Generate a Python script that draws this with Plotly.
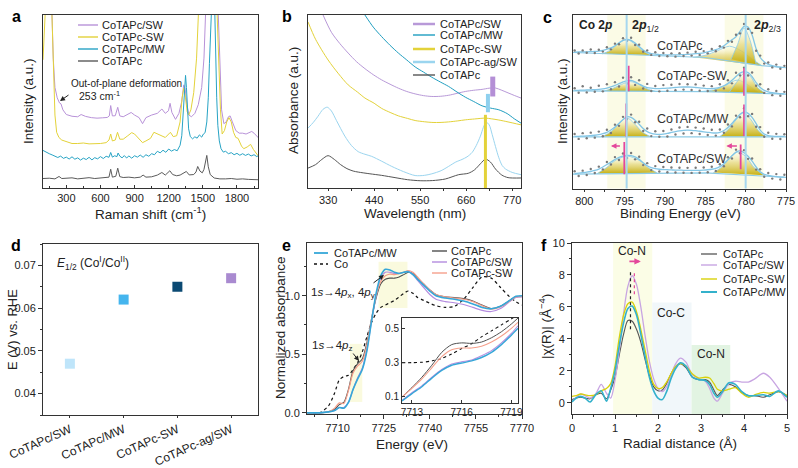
import plotly.graph_objects as go

W, H = 798, 468
FONT = "Arial, Liberation Sans, sans-serif"


def px(x):
    return x / W


def py(y):
    return 1 - y / H


# ======================= DATA =======================
# (a) Raman (intensity in arbitrary, stacked units 0-100)
RAMAN_NAMES = ["CoTAPc/SW", "CoTAPc-SW", "CoTAPc/MW", "CoTAPc"]
RAMAN_COLORS = ["#b892d8", "#e3d23a", "#27a3c4", "#5a5a5a"]
RAMAN_SW_X = [100, 150, 170, 185, 200, 220, 240, 253, 270, 300, 350, 400, 430, 470, 520, 570, 620, 660, 678, 690,
              705, 730, 752, 770, 800, 840, 870, 900, 940, 970, 1000, 1050, 1100, 1140, 1170, 1198, 1212, 1228, 1260,
              1290, 1315, 1332, 1345, 1360, 1378, 1400, 1430, 1460, 1490, 1510, 1525, 1540, 1620, 1635, 1650, 1665,
              1685, 1705, 1725, 1740, 1760, 1790, 1820, 1850, 1880, 1910, 1930, 1950, 1975, 2000]
RAMAN_SW_Y = [130, 130, 110, 75, 58, 52, 49, 48.5, 45, 42.3, 41.3, 41, 42.3, 41.2, 40.5, 40.2, 40.4, 40.6, 41.5, 47.5,
              41.5, 41.6, 46.5, 41.5, 41, 42.5, 43.5, 42, 40.5, 37, 40.5, 42, 43, 45.5, 43, 44.5, 48.8, 43.5, 39.5,
              43, 50, 59.5, 57, 48, 42, 41, 43, 48, 58, 75, 100, 130, 130, 100, 62, 45,
              37, 38, 41, 41.5, 38, 33, 31.5, 31.5, 31, 32, 32.5, 31.5, 29.5, 28]
RAMAN_DSW_X = [95, 110, 122, 135, 160, 172, 185, 200, 215, 235, 260, 300, 350, 400, 450, 500, 550, 600, 650, 675,
               690, 705, 730, 750, 770, 800, 840, 875, 900, 940, 970, 1000, 1040, 1070, 1100, 1140, 1170, 1200, 1215,
               1240, 1270, 1300, 1318, 1332, 1348, 1362, 1375, 1395, 1420, 1445, 1465, 1480, 1610, 1625, 1640, 1655,
               1670, 1690, 1710, 1730, 1750, 1770, 1790, 1810, 1840, 1860, 1890, 1920, 1945, 1970, 1985]
RAMAN_DSW_Y = [74, 95, 130, 130, 130, 100, 65, 42, 32, 29, 27.5, 26.5, 25.5, 25.5, 25.8, 25.3, 25.2, 25.5, 26, 27.5,
               31, 27, 27.5, 32, 28, 28, 30, 31.8, 31, 28, 26, 27, 28.5, 32, 31, 30, 29, 31, 32,
               29.5, 30, 38, 52, 57.5, 52, 44, 42, 45, 55, 75, 100, 130, 130, 100, 70, 45,
               31, 33, 38, 40.5, 38, 32, 29, 28.5, 24, 22.5, 23.5, 25, 22, 19.5, 18.5]
RAMAN_MW_X = [95, 125, 150, 175, 200, 225, 250, 275, 300, 325, 350, 375, 400, 425, 450, 475, 500, 525, 550, 575,
              600, 625, 650, 675, 690, 705, 725, 745, 755, 770, 790, 810, 830, 850, 875, 900, 925, 950, 975, 1000,
              1025, 1050, 1075, 1100, 1125, 1150, 1175, 1200, 1225, 1250, 1275, 1300, 1315, 1330, 1340, 1348, 1356,
              1365, 1375, 1390, 1410, 1430, 1450, 1470, 1490, 1505, 1520, 1535, 1548, 1558, 1568, 1580, 1592, 1604,
              1612, 1622, 1632, 1645, 1660, 1680, 1700, 1725, 1750, 1775, 1800, 1825, 1850, 1875, 1900, 1925, 1950,
              1975, 1985]
RAMAN_MW_Y = [21.5, 20.2, 19.6, 18.9, 18.0, 17.4, 18.2, 16.9, 17.6, 16.5, 17.8, 16.4, 17.2, 15.9, 17.0, 16.2, 17.5,
              16.0, 17.3, 16.6, 17.9, 16.8, 18.1, 17.5, 20.3, 17.6, 18.4, 17.9, 20.0, 18.2, 17.2, 18.5, 17.1, 18.3,
              17.0, 18.4, 17.6, 18.8, 17.5, 19.0, 18.1, 19.6, 19.0, 21.0, 20.1, 21.6, 20.4, 22.3, 21.1, 22.0, 21.3,
              24.5, 30, 48, 62, 65, 58, 44, 34, 29.5, 28.2, 29.4, 28.6, 30.5, 29.2, 31.0, 31.8, 38, 52, 72, 100, 130,
              130, 105, 78, 52, 36, 27, 22.5, 20.5, 21.0, 19.6, 20.2, 19.0, 19.8, 18.7, 19.6, 18.6, 19.4, 18.3, 19.0,
              17.9, 18.4]
RAMAN_PC_X = [95, 150, 200, 236, 260, 300, 350, 400, 450, 500, 550, 600, 650, 675, 690, 705, 735, 752, 770, 800,
              850, 900, 950, 975, 1000, 1050, 1100, 1140, 1170, 1195, 1210, 1235, 1270, 1300, 1340, 1355, 1380, 1420,
              1440, 1455, 1475, 1495, 1510, 1525, 1535, 1548, 1565, 1600, 1650, 1700, 1750, 1800, 1850, 1900, 1950,
              1985]
RAMAN_PC_Y = [5.2, 5.4, 5.0, 6.4, 5.2, 5.3, 5.6, 5.0, 5.3, 5.7, 5.2, 5.4, 5.6, 6.0, 10.6, 6.0, 6.5, 11.2, 6.3, 5.8,
              6.0, 5.6, 6.0, 7.2, 6.0, 6.2, 7.2, 8.7, 7.2, 8.5, 9.7, 7.5, 6.8, 7.2, 8.7, 9.3, 7.3, 7.5,
              9.0, 12.2, 9.5, 8.5, 10.5, 16, 18.6, 12, 7.5, 5.5, 5.0, 5.0, 5.2, 4.8, 5.0, 4.7, 4.8,
              4.5]
RAMAN_TICKS = [300, 600, 900, 1200, 1500, 1800]

# (b) UV-vis
UV_NAMES = ["CoTAPc/SW", "CoTAPc/MW", "CoTAPc-SW", "CoTAPc-ag/SW", "CoTAPc"]
UV_COLORS = ["#b899d8", "#1f9ec0", "#e3d23a", "#9bd5ef", "#555555"]
UV_SW_X = [318, 338, 358, 378, 398, 418, 438, 458, 478, 498, 518, 538, 558, 578, 598, 618, 638, 658, 678, 698, 715,
           730, 745, 760, 775, 791]
UV_SW_Y = [100, 90, 83.5, 78, 73, 69, 65.5, 62.5, 60, 57.7, 55.8, 54.4, 53.4, 52.9, 53, 53.6, 54.7, 55.8, 56.5, 57,
           57.7, 57.8, 56.5, 55, 53.5, 52]
UV_MW_X = [418, 438, 458, 478, 498, 518, 538, 558, 578, 598, 618, 638, 658, 678, 698, 718, 738, 758, 775, 791]
UV_MW_Y = [100, 93, 87.5, 82.5, 78, 74, 70, 67, 64, 61.3, 58.7, 55.5, 52.5, 50, 47.5, 46.2, 45.2, 43, 40, 37.5]
UV_DSW_X = [282, 300, 330, 355, 378, 400, 418, 440, 458, 480, 498, 520, 538, 560, 578, 600, 618, 640, 658, 680, 706,
            720, 738, 760, 791]
UV_DSW_Y = [96, 86, 74, 66, 59.6, 55.5, 52, 49, 46, 43.5, 41.7, 40.2, 39, 38.3, 37.9, 37.9, 38.2, 38.8, 39.4, 39.9,
            40.4, 40, 39.3, 38.2, 36.5]
UV_AG_X = [282, 295, 306, 318, 328, 338, 350, 370, 386, 402, 418, 434, 458, 482, 510, 538, 560, 578, 600, 618, 635,
           650, 662, 674, 684, 694, 701, 708, 715, 722, 730, 738, 746, 754, 770, 791]
UV_AG_Y = [34.6, 38, 41.5, 45.5, 46.7, 44.5, 39, 30, 24.5, 21, 19.5, 18.3, 15.5, 12.5, 9.5, 7.2, 7.3, 8.2, 10, 12.5,
           15, 16.5, 18, 20.5, 24.5, 30, 35, 38, 36.5, 31, 24, 17.5, 13, 11, 9, 7.7]
UV_PC_X = [282, 300, 315, 330, 345, 360, 375, 390, 402, 430, 458, 490, 520, 550, 580, 610, 642, 665, 680, 694, 706,
           718, 730, 745, 760, 791]
UV_PC_Y = [11.5, 13.5, 16.5, 18.7, 16.5, 13.5, 11.2, 9.8, 9.2, 8.2, 7.3, 6, 4.8, 4.2, 4.3, 5.2, 7.7, 8.5, 10.5, 14,
           16.7, 15, 11, 7.5, 6, 5.8]
UV_PEAK_NM = [706, 712, 723.5]
UV_PEAK_LO = [0, 43.8, 52.9]
UV_PEAK_HI = [42.3, 54.4, 64.4]
UV_PEAK_COL = ["#e3d23a", "#8fd0ee", "#b48fd6"]
UV_TICKS = [330, 440, 550, 660, 770]

# (c) XPS Co 2p (stacked)
XPS_LABELS = ["CoTAPc", "CoTAPc-SW", "CoTAPc/MW", "CoTAPc/SW"]
XPS_LABEL_Y = [82.2, 65, 39.8, 16.8]
XPS_E = [801.2, 800.7, 800.2, 799.7, 799.2, 798.7, 798.2, 797.7, 797.2, 796.7, 796.2, 795.7, 795.2, 794.7, 794.2,
         793.7, 793.2, 792.7, 792.2, 791.7, 791.2, 790.7, 790.2, 789.7, 789.2, 788.7, 788.2, 787.7, 787.2, 786.7,
         786.2, 785.7, 785.2, 784.7, 784.2, 783.7, 783.2, 782.7, 782.2, 781.7, 781.2, 780.7, 780.2, 779.7, 779.2,
         778.7, 778.2, 777.7, 777.2, 776.7, 776.2, 775.7, 775.2]
XPS_ENV = [
    [78.6, 78.7, 78.8, 78.8, 78.9, 79, 79.2, 79.6, 80.3, 81, 82.3, 84, 85.4, 86, 85.4, 83.8, 81.8, 79.8, 78.5, 77.8,
     77.4, 77.2, 77, 77, 77, 77, 77.1, 77.2, 77.3, 77.5, 77.7, 77.9, 78.2, 78.7, 79.3, 80, 81, 82.3, 84, 85.7, 87.5,
     90.5, 93.5, 93, 88.5, 80.5, 75.5, 73, 71.5, 70.8, 70.3, 70, 69.8],
    [56.5, 56.6, 56.7, 56.8, 56.9, 57, 57.1, 57.4, 57.9, 58.6, 59.4, 60.4, 61.4, 62.2, 62.3, 61.5, 60.2, 59, 58.2,
     57.8, 57.6, 57.6, 57.7, 57.8, 58, 58.2, 58.4, 58.5, 58.5, 58.4, 58.2, 58, 57.8, 57.6, 57.6, 57.8, 58.3, 59.2,
     60.6, 62.4, 64.5, 66.5, 67.4, 66.8, 64.5, 61, 58.2, 56.6, 55.7, 55.2, 54.9, 54.7, 54.5],
    [30, 30.1, 30.2, 30.3, 30.5, 30.7, 31, 31.6, 32.4, 33.7, 35.4, 37.6, 39.8, 41.4, 41, 39.4, 37, 34.6, 32.8, 31.8,
     31.3, 31.2, 31.4, 31.8, 32.3, 32.8, 33.2, 33.5, 33.6, 33.5, 33.3, 33, 32.7, 32.4, 32.1, 32, 32.4, 33.4, 35.2,
     37.5, 40.2, 42.8, 44.1, 43.3, 41, 37.4, 33.6, 31.4, 30.5, 30.2, 30, 30, 30],
    [8.5, 8.8, 9.1, 9.4, 9.8, 10.4, 11.2, 12.4, 13.8, 15.2, 16.7, 17.9, 18.7, 19.1, 19, 18.2, 16.8, 14.9, 13.1, 12,
     11.4, 11.1, 10.9, 10.8, 10.7, 10.6, 10.6, 10.5, 10.5, 10.5, 10.5, 10.5, 10.6, 10.8, 11.1, 11.6, 12.6, 14.3, 16.5,
     18.8, 21, 21.7, 20.6, 18.6, 15.8, 12.4, 9.6, 8.2, 7.5, 7.1, 6.8, 6.6, 6.5],
]
XPS_DOTS = [
    [79.5, 77.8, 79.6, 78.2, 80.1, 78.1, 80.0, 78.9, 81.4, 80.2, 83.5, 83.1, 86.6, 85.2, 86.9, 82.7, 82.9, 78.8, 79.6,
     77.0, 78.5, 76.3, 78.1, 76.2, 77.9, 76.0, 78.0, 76.4, 78.3, 76.6, 78.8, 77.0, 79.2, 77.9, 80.4, 79.1, 82.0, 81.2,
     85.1, 84.6, 88.6, 89.4, 94.8, 92.0, 89.7, 79.4, 76.6, 72.0, 72.6, 69.8, 71.4, 69.0, 70.7],
    [57.8, 55.2, 58.9, 55.4, 58.1, 55.8, 59.2, 56.0, 60.1, 57.2, 61.3, 58.8, 63.9, 60.5, 64.1, 59.7, 62.4, 57.6, 60.3,
     56.2, 59.1, 56.0, 59.6, 56.3, 59.8, 56.7, 60.2, 57.0, 60.1, 56.8, 60.0, 56.4, 59.3, 56.2, 59.0, 56.3, 60.1, 57.7,
     62.4, 60.6, 66.7, 65.2, 69.6, 65.1, 66.9, 59.2, 60.1, 55.1, 57.2, 53.8, 56.2, 53.5, 55.7],
    [31.4, 28.6, 31.9, 29.0, 32.2, 29.3, 32.8, 30.1, 33.9, 32.0, 36.8, 36.1, 41.3, 40.0, 42.6, 38.2, 38.5, 33.1, 34.6,
     30.2, 33.0, 29.8, 33.1, 30.0, 34.0, 31.1, 35.2, 31.7, 35.5, 31.9, 35.1, 31.4, 34.6, 30.8, 33.9, 30.5, 34.0, 32.1,
     36.9, 35.8, 42.0, 41.1, 46.3, 41.7, 43.0, 35.6, 35.4, 29.8, 32.1, 28.7, 31.5, 28.5, 31.3],
    [9.9, 7.2, 10.3, 7.8, 11.2, 8.9, 12.6, 11.0, 15.3, 13.8, 18.1, 16.4, 20.2, 17.6, 20.5, 16.8, 18.3, 13.5, 14.6,
     10.6, 12.9, 9.8, 12.4, 9.4, 12.1, 9.2, 12.0, 9.1, 11.9, 9.0, 12.0, 9.1, 12.1, 9.4, 12.5, 10.1, 14.0, 12.8, 18.0,
     17.3, 22.4, 20.3, 22.1, 17.1, 17.3, 10.9, 11.1, 6.8, 8.9, 5.7, 8.3, 5.2, 7.9],
]
XPS_BASE_E = [801.4, 792, 785, 778, 775]
XPS_BASE = [[78.4, 76.8, 75.5, 70.8, 69.6], [56.3, 56.0, 55.8, 54.8, 54.4],
            [29.8, 29.8, 29.9, 29.8, 29.8], [8.3, 8.8, 9.0, 7.2, 6.4]]
XPS_COMPONENTS = [
    ([797.8, 796.8, 795.8, 794.75, 793.7, 792.7, 791.8], [77.6, 79.6, 83.4, 85.8, 83.2, 79.2, 76.9]),
    ([786.5, 785, 783.5, 782, 780.5, 779.2, 778], [75.6, 76.8, 79.4, 82, 79.2, 74.6, 70.8]),
    ([781.8, 781, 780.2, 779.5, 778.7], [74.5, 83, 92.5, 86, 71.5]),
    ([797.6, 796.5, 795.4, 794.3, 793.2, 792.1, 791.2], [56.2, 57.6, 60, 61.6, 59.9, 57.2, 56.1]),
    ([785.5, 784, 782.5, 781, 779.5, 778.3], [55.9, 56.8, 59.5, 62.5, 59, 55]),
    ([782, 781, 780.2, 779.4, 778.5, 777.5], [55.7, 62, 66.5, 64.5, 58, 54.8]),
    ([797.8, 796.7, 795.7, 794.75, 793.8, 792.8, 791.8], [29.9, 32.7, 37.2, 40.8, 37.4, 32.5, 29.9]),
    ([783.2, 782.2, 781.2, 780.3, 779.4, 778.4, 777.5], [29.9, 33.8, 39.5, 43.5, 40, 33.2, 29.9]),
    ([798.4, 797.2, 796, 794.6, 793.2, 792, 791], [8.6, 12.2, 16.6, 18.6, 16.2, 11.8, 9.1]),
    ([784, 782.9, 781.9, 781, 780, 778.9, 777.7], [9.2, 12.6, 18.2, 21, 18.5, 11.8, 7.6]),
]
XPS_REF_LINES = [794.75, 780.0]
XPS_BANDS = [(797.15, 792.4), (782.6, 777.8)]
XPS_SHIFT_E = [794.5, 780.2, 794.8, 780.2, 795.04, 780.62]
XPS_SHIFT_LO = [56, 53.5, 29.8, 30.2, 8.2, 11.1]
XPS_SHIFT_HI = [70.7, 69.4, 49, 48.4, 26.8, 25.4]
XPS_TICKS = [800, 795, 790, 785, 780, 775]

# (d) E1/2
D_CATS = ["CoTAPc/SW", "CoTAPc/MW", "CoTAPc-SW", "CoTAPc-ag/SW"]
D_VALS = [0.047, 0.062, 0.065, 0.067]
D_COLORS = ["#bfe5fa", "#45b5ee", "#0b4a73", "#a98ad0"]

# (e) XANES
XAN_NAMES_L = ["CoTAPc/MW", "Co"]
XAN_NAMES_R = ["CoTAPc", "CoTAPc/SW", "CoTAPc-SW"]
XAN_E = [7700, 7704, 7707, 7709, 7710.5, 7712, 7713.5, 7715, 7716.5, 7718, 7719.5, 7721, 7722.5, 7724, 7725.5,
         7727, 7728.5, 7730, 7731.5, 7733, 7734.5, 7736, 7738, 7740, 7742, 7745, 7748, 7751, 7754, 7757, 7760,
         7763, 7766, 7768, 7770]
XAN_MW = [0.0, 0.0, 0.008, 0.02, 0.045, 0.04, 0.09, 0.2, 0.29, 0.37, 0.53, 0.78, 1.02, 1.17, 1.225, 1.22, 1.2, 1.19,
          1.2, 1.205, 1.18, 1.14, 1.09, 1.04, 1.0, 0.98, 0.97, 0.955, 0.93, 0.9, 0.888, 0.91, 0.96, 0.995, 1.0]
XAN_PC = [0.0, 0.0, 0.01, 0.03, 0.07, 0.09, 0.2, 0.36, 0.42, 0.46, 0.6, 0.8, 0.98, 1.1, 1.14, 1.15, 1.15, 1.16, 1.18,
          1.2, 1.19, 1.15, 1.1, 1.05, 1.01, 0.99, 0.985, 0.975, 0.955, 0.92, 0.89, 0.91, 0.96, 0.99, 0.995]
XAN_SW = [0.0, 0.0, 0.008, 0.02, 0.045, 0.045, 0.09, 0.2, 0.3, 0.38, 0.54, 0.78, 1.0, 1.15, 1.2, 1.2, 1.19, 1.19, 1.2,
          1.21, 1.18, 1.13, 1.07, 1.01, 0.97, 0.95, 0.94, 0.925, 0.9, 0.875, 0.865, 0.89, 0.95, 0.985, 0.99]
XAN_DSW = [0.0, 0.0, 0.01, 0.04, 0.085, 0.08, 0.19, 0.34, 0.4, 0.44, 0.58, 0.8, 1.0, 1.12, 1.17, 1.185, 1.18, 1.19,
           1.2, 1.215, 1.2, 1.16, 1.1, 1.05, 1.01, 0.99, 0.98, 0.97, 0.95, 0.915, 0.885, 0.905, 0.955, 0.99, 0.995]
XAN_CO = [0.0, 0.0, 0.06, 0.17, 0.28, 0.31, 0.32, 0.37, 0.43, 0.52, 0.65, 0.77, 0.85, 0.9, 0.92, 0.94, 0.96, 0.99,
          1.02, 1.04, 1.02, 0.985, 0.96, 0.935, 0.915, 0.9, 0.91, 0.97, 1.07, 1.16, 1.15, 1.07, 0.99, 0.95, 0.92]
XAN_TICKS = [7710, 7725, 7740, 7755, 7770]
XAN_BOXES = [(7723.3, 7732.7, 0.895, 1.289), (7714.0, 7718.0, 0.093, 0.589)]
INSET_E = [7712.4, 7713, 7713.6, 7714.2, 7714.8, 7715.4, 7716, 7716.6, 7717.2, 7717.8, 7718.4, 7719, 7719.4]
INSET_PC = [0.1, 0.155, 0.215, 0.285, 0.36, 0.405, 0.415, 0.412, 0.42, 0.445, 0.48, 0.525, 0.56]
INSET_DSW = [0.1, 0.15, 0.205, 0.27, 0.335, 0.375, 0.385, 0.385, 0.395, 0.42, 0.455, 0.5, 0.535]
INSET_CO = [0.3, 0.3, 0.302, 0.31, 0.325, 0.35, 0.382, 0.41, 0.45, 0.485, 0.52, 0.555, 0.58]
INSET_MW = [0.077, 0.12, 0.16, 0.21, 0.255, 0.285, 0.298, 0.31, 0.33, 0.36, 0.405, 0.46, 0.5]
INSET_SW = [0.08, 0.125, 0.165, 0.215, 0.26, 0.292, 0.305, 0.315, 0.34, 0.37, 0.415, 0.47, 0.515]

# (f) EXAFS FT
FT_NAMES = ["CoTAPc", "CoTAPc/SW", "CoTAPc-SW", "CoTAPc/MW"]
FT_COLORS = ["#555555", "#c8a5e2", "#d9d10a", "#33b1cb"]
FT_R = [0, 0.1, 0.2, 0.3, 0.42, 0.55, 0.68, 0.8, 0.9, 1.0, 1.1, 1.2, 1.3, 1.4, 1.5, 1.6, 1.7, 1.8, 1.9, 2.0, 2.1,
        2.2, 2.3, 2.4, 2.52, 2.65, 2.8, 2.95, 3.1, 3.2, 3.3, 3.38, 3.5, 3.65, 3.8, 3.95, 4.1, 4.25, 4.45, 4.6, 4.8, 5.0]
FT_PC = [0.2, 0.3, 0.35, 0.3, 0.25, 0.5, 0.6, 0.25, 0.8, 1.6, 3.0, 4.3, 5.15, 5.1, 4.6, 3.8, 2.7, 1.7, 1.0, 0.75,
         0.8, 1.2, 1.8, 2.25, 2.45, 2.2, 1.6, 1.45, 1.45, 1.3, 0.8, 0.45, 0.8, 1.15, 1.0, 0.65, 0.45, 0.45, 0.35, 0.5,
         0.7, 0.45]
FT_SW = [0.1, 0.35, 0.55, 0.45, 0.3, 0.55, 1.15, 0.6, 0.3, 1.4, 3.3, 5.6, 7.3, 7.95, 7.4, 6.0, 4.2, 2.6, 1.5, 0.9,
         0.7, 1.0, 1.7, 2.4, 2.8, 2.55, 1.75, 1.5, 1.35, 0.9, 0.3, 0.1, 0.6, 1.2, 1.35, 1.3, 1.3, 1.5, 1.85, 1.6,
         0.9, 0.1]
FT_DSW = [0.4, 0.45, 0.55, 0.5, 0.45, 0.5, 0.75, 0.9, 1.2, 2.3, 4.1, 5.5, 6.2, 6.3, 5.7, 4.6, 3.3, 2.0, 1.15, 0.9,
          0.95, 1.3, 1.8, 2.25, 2.45, 2.3, 1.8, 1.55, 1.6, 1.55, 1.2, 0.85, 0.75, 0.85, 0.95, 0.6, 0.35, 0.5, 0.65,
          0.6, 0.7, 0.45]
FT_MW = [0.05, 0.3, 0.4, 0.3, 0.05, 0.5, 0.75, 0.1, 0.9, 2.0, 3.6, 5.0, 5.9, 6.05, 5.5, 4.3, 2.9, 1.6, 0.75, 0.3,
         0.2, 0.7, 1.5, 2.1, 2.5, 2.3, 1.6, 1.45, 1.4, 1.15, 0.6, 0.35, 0.7, 1.25, 1.15, 0.7, 0.45, 0.45, 0.5, 0.4,
         0.75, 0.35]
FT_REGIONS = [(0.957, 1.866, 10, "#fbfde6", "Co-N", 1.4, 9.5),
              (1.866, 2.78, 6.28, "#f1f7fa", "Co-C", 2.3, 5.6),
              (2.78, 3.68, 3.62, "#e2f4e2", "Co-N", 3.23, 3.05)]
FT_PEAK_R = [1.36, 1.45]

# ======================= FIGURE =======================
fig = go.Figure()


def add(ax, **kw):
    n = '' if ax == 1 else str(ax)
    kw.setdefault('mode', 'lines')
    fig.add_trace(go.Scatter(xaxis='x' + n, yaxis='y' + n, showlegend=False, hoverinfo='skip', **kw))


# (a)
for xs, ys, c in zip([RAMAN_SW_X, RAMAN_DSW_X, RAMAN_MW_X, RAMAN_PC_X],
                     [RAMAN_SW_Y, RAMAN_DSW_Y, RAMAN_MW_Y, RAMAN_PC_Y], RAMAN_COLORS):
    add(1, x=xs, y=ys, line=dict(color=c, width=1.0))

# (b)
for xs, ys, c in zip([UV_SW_X, UV_MW_X, UV_DSW_X, UV_AG_X, UV_PC_X],
                     [UV_SW_Y, UV_MW_Y, UV_DSW_Y, UV_AG_Y, UV_PC_Y], UV_COLORS):
    add(2, x=xs, y=ys, line=dict(color=c, width=1.0, shape='spline', smoothing=0.8))
for x0, lo, hi, c, w in zip(UV_PEAK_NM, UV_PEAK_LO, UV_PEAK_HI, UV_PEAK_COL, [3, 4, 5]):
    add(2, x=[x0, x0], y=[lo, hi], line=dict(color=c, width=w))

# (c)
GRAD = dict(type='vertical', colorscale=[[0, 'rgba(196,172,10,0.95)'], [0.55, 'rgba(228,214,120,0.7)'],
                                         [1, 'rgba(255,255,235,0.25)']])
for cx, cy in XPS_COMPONENTS:
    add(3, x=cx, y=cy, fill='toself', fillgradient=GRAD,
        line=dict(color='#8dcbe6', width=0.8, shape='spline', smoothing=0.9))
for i in range(4):
    add(3, x=XPS_BASE_E, y=XPS_BASE[i], line=dict(color='#8dcbe6', width=1.2))
    add(3, x=XPS_E, y=XPS_ENV[i], line=dict(color='#83c6e6', width=1.3, shape='spline', smoothing=0.7))
    add(3, x=XPS_E, y=XPS_DOTS[i], mode='markers', marker=dict(color='#7a7a7a', size=2.4))
for xe, lo, hi in zip(XPS_SHIFT_E, XPS_SHIFT_LO, XPS_SHIFT_HI):
    add(3, x=[xe, xe], y=[lo, hi], line=dict(color='#e4479b', width=1.8))

# (d)
add(4, x=D_CATS, y=D_VALS, mode='markers',
    marker=dict(symbol='square', size=10, color=D_COLORS, line=dict(width=0)))

# (e)
for ys, c, w, d in [(XAN_CO, '#111111', 1.2, 'dot'), (XAN_PC, '#505050', 1.1, 'solid'),
                    (XAN_SW, '#b48cdf', 1.2, 'solid'), (XAN_DSW, '#f5a08c', 1.2, 'solid'),
                    (XAN_MW, '#36a7d8', 1.6, 'solid')]:
    add(5, x=XAN_E, y=ys, line=dict(color=c, width=w, dash=d, shape='spline', smoothing=0.8))
for ys, c, w, d in [(INSET_CO, '#111111', 1.1, 'dot'), (INSET_PC, '#505050', 1.0, 'solid'),
                    (INSET_SW, '#b48cdf', 1.1, 'solid'), (INSET_DSW, '#f5a08c', 1.1, 'solid'),
                    (INSET_MW, '#36a7d8', 1.4, 'solid')]:
    add(7, x=INSET_E, y=ys, line=dict(color=c, width=w, dash=d, shape='spline', smoothing=0.8))

# (f)
for ys, c, w in zip([FT_PC, FT_SW, FT_DSW, FT_MW], FT_COLORS, [1.1, 1.3, 1.3, 1.6]):
    add(6, x=FT_R, y=ys, line=dict(color=c, width=w, shape='spline', smoothing=0.8))
add(6, x=[FT_PEAK_R[0], FT_PEAK_R[0]], y=[4.6, 8.2], line=dict(color='#222', width=1.2, dash='dot'))
add(6, x=[FT_PEAK_R[1], FT_PEAK_R[1]], y=[6.8, 8.2], line=dict(color='#e4479b', width=1.2, dash='dot'))

# ======================= LAYOUT =======================
TICKFONT = dict(size=11, color='#222', family=FONT)


def axis(**kw):
    base = dict(showline=True, linecolor='#333', linewidth=1, mirror=True, showgrid=False, zeroline=False,
                ticks='outside', ticklen=4, tickwidth=1, tickcolor='#333', tickfont=TICKFONT, automargin=False)
    base.update(kw)
    return base


NOY = dict(showticklabels=False, ticks='')

layout = dict(width=W, height=H, margin=dict(l=0, r=0, t=0, b=0, autoexpand=False), paper_bgcolor='white',
              plot_bgcolor='white', font=dict(family=FONT, color='#222'), showlegend=False)

layout['xaxis'] = axis(domain=[px(43), px(258)], anchor='y', range=[95, 1985], tickvals=RAMAN_TICKS,
                       ticks='inside', ticklen=3,
                       minor=dict(ticks='inside', ticklen=2, dtick=150, tick0=150))
layout['yaxis'] = axis(domain=[py(187.5), py(15)], anchor='x', range=[0, 100], **NOY)
layout['xaxis2'] = axis(domain=[px(308), px(521)], anchor='y2', range=[282, 791], tickvals=UV_TICKS,
                        ticklen=2, minor=dict(ticks='outside', ticklen=2, dtick=55, tick0=275))
layout['yaxis2'] = axis(domain=[py(188), py(15)], anchor='x2', range=[0, 100], **NOY)
layout['xaxis3'] = axis(domain=[px(573), px(786)], anchor='y3', range=[801.4, 775], tickvals=XPS_TICKS,
                        ticklen=2, minor=dict(ticks='outside', ticklen=2, dtick=2.5, tick0=775))
layout['yaxis3'] = axis(domain=[py(188.5), py(15)], anchor='x3', range=[0, 100], **NOY)
layout['xaxis4'] = axis(domain=[px(43), px(258)], anchor='y4', type='category', range=[-0.5, 3.5],
                        tickangle=-24, ticklen=2, tickfont=dict(size=12, color='#222', family=FONT))
layout['yaxis4'] = axis(domain=[py(415), py(244)], anchor='x4', range=[0.035, 0.075], dtick=0.01,
                        tickformat='.2f', minor=dict(ticks='outside', ticklen=2, dtick=0.005))
layout['xaxis5'] = axis(domain=[px(307), px(522)], anchor='y5', range=[7700, 7770], tickvals=XAN_TICKS,
                        minor=dict(ticks='outside', ticklen=2, dtick=7.5, tick0=7702.5))
layout['yaxis5'] = axis(domain=[py(414), py(243)], anchor='x5', range=[-0.01, 1.45], tickvals=[0, 0.5, 1.0],
                        tickformat='.1f', minor=dict(ticks='outside', ticklen=2, dtick=0.25))
layout['xaxis6'] = axis(domain=[px(572), px(787)], anchor='y6', range=[0, 5], dtick=1,
                        minor=dict(ticks='outside', ticklen=2, dtick=0.5))
layout['yaxis6'] = axis(domain=[py(414), py(243)], anchor='x6', range=[-0.7, 10], dtick=2,
                        minor=dict(ticks='outside', ticklen=2, dtick=1))
layout['xaxis7'] = axis(domain=[px(402), px(518)], anchor='y7', range=[7712.4, 7719.4], tickvals=[7713, 7716, 7719],
                        tickfont=dict(size=10, color='#222', family=FONT), ticks='inside', ticklen=3)
layout['yaxis7'] = axis(domain=[py(403), py(318)], anchor='x7', range=[0.065, 0.56], tickvals=[0.1, 0.3, 0.5],
                        tickformat='.1f', tickfont=dict(size=10, color='#222', family=FONT), ticks='inside',
                        ticklen=3)

shapes = []
ann = []


def text(x, y, t, size=12, xanchor='left', yanchor='middle', **kw):
    ann.append(dict(x=px(x), y=py(y), xref='paper', yref='paper', text=t, showarrow=False, xanchor=xanchor,
                    yanchor=yanchor, font=dict(size=size, color=kw.pop('color', '#222'), family=FONT), **kw))


def arrow(hx, hy, tx, ty, color='#222', width=1.0, size=1.0):
    ann.append(dict(x=px(hx), y=py(hy), ax=tx - hx, ay=ty - hy, xref='paper', yref='paper', axref='pixel',
                    ayref='pixel', text='', showarrow=True, arrowhead=2, arrowsize=size, arrowwidth=width,
                    arrowcolor=color))


def legend_entry(x0, x1, xt, y, name, color, width=1.4, dash='solid', size=11):
    shapes.append(dict(type='line', xref='paper', yref='paper', x0=px(x0), x1=px(x1), y0=py(y), y1=py(y),
                       line=dict(color=color, width=width, dash=dash)))
    text(xt, y, name, size=size)


# panel letters
for letter, (x, y) in zip("abcdef", [(16, 17), (287, 17), (547, 18), (16, 245), (286, 245), (544, 245)]):
    text(x, y, "<b>%s</b>" % letter, size=16, xanchor='center', color='#000')

# axis titles
text(150, 213, "Raman shift (cm<sup>-1</sup>)", 13.5, 'center')
text(28, 101, "Intensity (a.u.)", 13.5, 'center', textangle=-90)
text(415, 214, "Wavelength (nm)", 13.5, 'center')
text(293, 101, "Absorbance (a.u.)", 13.5, 'center', textangle=-90)
text(680, 214, "Binding Energy (eV)", 13.5, 'center')
text(562, 101, "Intensity (a.u.)", 13.5, 'center', textangle=-90)
text(12, 330, "E (V) vs. RHE", 13, 'center', textangle=-90)
text(412, 444, "Energy (eV)", 13.5, 'center')
text(280, 328, "Normalized absorbance", 13.5, 'center', textangle=-90)
text(680, 443, "Radial distance (Å)", 13.5, 'center')
text(545, 327, "|χ(R)| (Å<sup>−4</sup>)", 13.5, 'center', textangle=-90)

# (a) legend + annotation
for name, col, y in zip(RAMAN_NAMES, RAMAN_COLORS, [25, 37, 49, 61]):
    legend_entry(78, 98, 100, y, name, col)
text(69, 83, "Out-of-plane deformation", 10)
text(77, 96, "253 cm<sup>-1</sup>", 10.5)
arrow(60, 101, 70, 94)

# (b) legend
for name, col, y, w in zip(UV_NAMES, UV_COLORS, [24, 35, 49, 62, 75], [2.5, 1.4, 2.5, 2.5, 1.4]):
    legend_entry(413, 435, 438, y, name, col, width=w)

# (c) bands, reference lines, labels, arrows
for a, b in XPS_BANDS:
    shapes.append(dict(type='rect', xref='x3', yref='y3 domain', x0=a, x1=b, y0=0, y1=1, layer='below',
                       fillcolor='#fbfbe6', line=dict(width=0)))
for e in XPS_REF_LINES:
    shapes.append(dict(type='line', xref='x3', yref='y3 domain', x0=e, x1=e, y0=0, y1=1, layer='above',
                       line=dict(color='#a6d7ef', width=2)))
for lab, yv in zip(XPS_LABELS, XPS_LABEL_Y):
    ann.append(dict(x=791.2, y=yv, xref='x3', yref='y3', text=lab, showarrow=False, xanchor='left',
                    font=dict(size=12.5, color='#333', family=FONT)))
text(577, 25, "<b>Co 2<i>p</i></b>", 12)
text(630, 26, "<b>2<i>p</i></b><sub>1/2</sub>", 12.5)
text(752, 26, "<b>2<i>p</i></b><sub>2/3</sub>", 12.5)
for (t, h) in [(795.4, 796.7), (780.9, 782.4)]:
    ann.append(dict(x=h, y=24.5, ax=t, ay=24.5, xref='x3', yref='y3', axref='x3', ayref='y3', text='',
                    showarrow=True, arrowhead=2, arrowsize=0.8, arrowwidth=1.4, arrowcolor='#e4479b'))

# (d) label
text(55, 263, "<i>E</i><sub>1/2</sub> (Co<sup>I</sup>/Co<sup>II</sup>)", 12)

# (e) boxes, annotations, legends
for a, b, lo, hi in XAN_BOXES:
    shapes.append(dict(type='rect', xref='x5', yref='y5', x0=a, x1=b, y0=lo, y1=hi, layer='below',
                       fillcolor='#fafade', line=dict(width=0)))
text(309, 293, "1<i>s</i>→4<i>p</i><sub>x</sub>, 4<i>p</i><sub>y</sub>", 11.5, 'left')
text(310, 346, "1<i>s</i>→4<i>p</i><sub>z</sub>", 11.5, 'left')
arrow(384, 275, 372, 284)
arrow(359, 361, 352, 352)
legend_entry(314, 328, 332, 253, XAN_NAMES_L[0], '#36a7d8', width=1.8)
legend_entry(314, 328, 332, 264, XAN_NAMES_L[1], '#111111', width=1.3, dash='dot')
for name, col, y in zip(XAN_NAMES_R, ['#505050', '#b48cdf', '#f5a08c'], [251, 262, 273]):
    legend_entry(432, 447, 449, y, name, col, width=1.4)

# (f) regions, labels, legend
for a, b, top, col, lab, lx, ly in FT_REGIONS:
    shapes.append(dict(type='rect', xref='x6', yref='y6', x0=a, x1=b, y0=-0.7, y1=top, layer='below',
                       fillcolor=col, line=dict(width=0)))
    ann.append(dict(x=lx, y=ly, xref='x6', yref='y6', text=lab, showarrow=False,
                    font=dict(size=12, color='#222', family=FONT)))
ann.append(dict(x=1.6, y=8.85, ax=1.3, ay=8.85, xref='x6', yref='y6', axref='x6', ayref='y6', text='',
                showarrow=True, arrowhead=2, arrowsize=0.8, arrowwidth=1.6, arrowcolor='#e4479b'))
for name, col, y, w in zip(FT_NAMES, FT_COLORS, [254, 265, 279, 292], [1.3, 1.4, 1.4, 2.0]):
    legend_entry(701, 717, 721, y, name, col, width=w)

layout['shapes'] = shapes
layout['annotations'] = ann
fig.update_layout(**layout)
fig.write_html("out.html")
